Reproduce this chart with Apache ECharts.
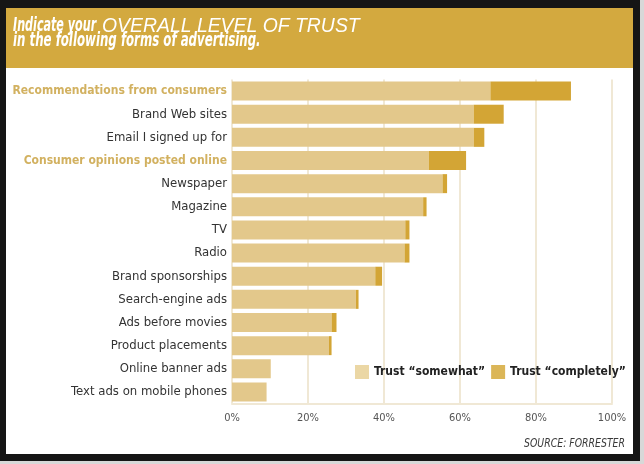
<!DOCTYPE html>
<html><head><meta charset="utf-8">
<script src="https://cdn.jsdelivr.net/npm/echarts@6/dist/echarts.min.js"></script>
<style>html,body{margin:0;padding:0;background:#d8d8d8;}#c{width:644px;height:464px;}</style>
</head><body><div id="c"></div>
<script>
const categories = ['Recommendations from consumers','Brand Web sites','Email I signed up for','Consumer opinions posted online','Newspaper','Magazine','TV','Radio','Brand sponsorships','Search-engine ads','Ads before movies','Product placements','Online banner ads','Text ads on mobile phones'];
const highlighted = ['Recommendations from consumers','Consumer opinions posted online'];
const somewhat = [68, 63.6, 63.6, 51.8, 55.4, 50.3, 45.6, 45.4, 37.7, 32.6, 26.2, 25.5, 10.2, 9.1];
const completely = [21.2, 7.9, 2.8, 9.8, 1.2, 0.9, 1.1, 1.3, 1.8, 0.7, 1.3, 0.7, 0, 0];
const seriesNames = ['Trust \u201csomewhat\u201d', 'Trust \u201ccompletely\u201d'];
const xTicks = [0, 20, 40, 60, 80, 100];

const NARROW = '"Liberation Sans Narrow","DejaVu Sans Condensed","Liberation Sans",sans-serif';
const chart = echarts.init(document.getElementById('c'), null, {renderer:'canvas'});
chart.setOption({
  animation: false,
  backgroundColor: '#d8d8d8',
  graphic: [
    {type:'rect', z:-10, shape:{x:0,y:0,width:640,height:461}, style:{fill:'#151515'}},
    {type:'rect', z:-9, shape:{x:6,y:8,width:627,height:446}, style:{fill:'#ffffff'}},
    {type:'rect', z:-8, shape:{x:6,y:8,width:627,height:60}, style:{fill:'#d3a93f'}},
    {type:'text', x:13, y:16, scaleX:0.62, z:5, style:{
      text:'Indicate your', fontFamily:NARROW, fontStyle:'italic', fontWeight:'bold', fontSize:20, fill:'#ffffff'}},
    {type:'text', x:102, y:16, scaleX:0.97, z:5, style:{
      text:'OVERALL LEVEL OF TRUST', fontFamily:'"Liberation Sans",Arial,sans-serif', fontStyle:'italic', fontSize:20, fill:'#ffffff'}},
    {type:'text', x:13, y:31, scaleX:0.655, z:5, style:{
      text:'in the following forms of advertising.',
      fontFamily:NARROW, fontStyle:'italic', fontWeight:'bold', fontSize:20, fill:'#ffffff'}},
    {type:'text', x:625, y:437, scaleX:0.8, z:5, style:{
      text:'SOURCE: FORRESTER', align:'right', fontFamily:NARROW, fontStyle:'italic', fontSize:13, fill:'#3a3a3a'}}
  ],
  legend: {
    left: 350, top: 360, width: 290, itemWidth: 14, itemHeight: 14, itemGap: 6,
    icon: 'rect', orient: 'horizontal',
    textStyle: {fontFamily: NARROW, fontWeight:'bold', fontSize: 12, color:'#222'},
    data: [
      {name: seriesNames[0], itemStyle:{color:'#ebd7a5'}},
      {name: seriesNames[1], itemStyle:{color:'#dbb658'}}
    ]
  },
  grid: {left: 232, right: 32, top: 79.5, bottom: 60.5, containLabel: false, outerBoundsMode: 'none'},
  xAxis: {
    type: 'value', min: 0, max: 100, interval: 20,
    axisLine: {show: true, lineStyle: {color: '#f0e8d5', width: 2}},
    axisTick: {show: false},
    splitLine: {show: true, lineStyle: {color: '#f0e8d5', width: 2}},
    axisLabel: {formatter: v => xTicks.includes(v) ? v + '%' : '', fontFamily: NARROW, fontSize: 11, color: '#555', margin: 9}
  },
  yAxis: {
    type: 'category', data: categories, inverse: true,
    axisLine: {show: false}, axisTick: {show: false},
    axisLabel: {
      margin: 5, fontFamily: NARROW, fontSize: 13, color: '#333',
      formatter: v => highlighted.includes(v) ? '{h|' + v + '}' : v,
      rich: {h: {fontFamily: NARROW, fontSize: 12, fontWeight: 'bold', color: '#d2b160'}}
    }
  },
  series: [
    {name: seriesNames[0], type: 'bar', stack: 't', data: somewhat, barWidth: 19, itemStyle: {color: '#e3c88b'}},
    {name: seriesNames[1], type: 'bar', stack: 't', data: completely, barWidth: 19, itemStyle: {color: '#d3a535'}}
  ]
});
</script></body></html>
